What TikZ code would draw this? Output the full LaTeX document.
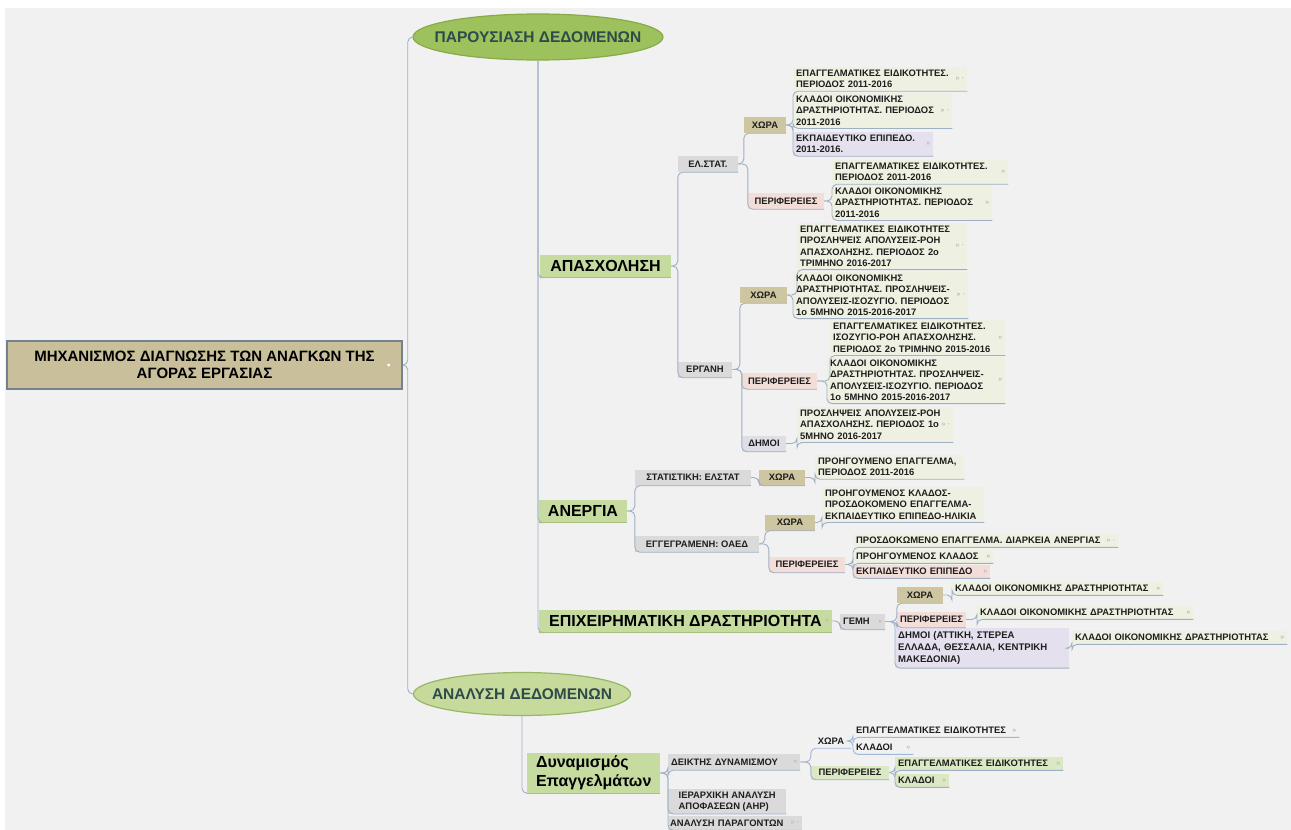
\documentclass[tikz,border=0pt]{standalone}
\usepackage{fontspec}
\setmainfont{Liberation Sans}
\newfontfamily\nf{Liberation Sans Bold}
\usetikzlibrary{shapes.geometric}
\definecolor{bgc}{HTML}{F1F1F1}
\definecolor{lnc}{HTML}{9FB0C4}
\definecolor{rootc}{HTML}{C9C09B}
\definecolor{rootb}{HTML}{74828F}
\definecolor{ellA}{HTML}{9DC15C}
\definecolor{ellAb}{HTML}{86AB48}
\definecolor{ellB}{HTML}{C6DA9C}
\definecolor{ellBb}{HTML}{98B766}
\definecolor{elltxt}{HTML}{2F4A4A}
\definecolor{lvl2}{HTML}{C6DBA0}
\definecolor{lvl2b}{HTML}{A9C07F}
\definecolor{grayc}{HTML}{DADADA}
\definecolor{tanc}{HTML}{CEC6A0}
\definecolor{pinkc}{HTML}{F3DDD8}
\definecolor{lavc}{HTML}{E5E0EE}
\definecolor{demc}{HTML}{DEDEE6}
\definecolor{leafc}{HTML}{EEF1E1}
\definecolor{greenc}{HTML}{DAE8C4}
\definecolor{bluel}{HTML}{9DB8DA}
\definecolor{txt}{HTML}{1E1E1E}
\definecolor{iconc}{HTML}{BBBBBB}
\tikzset{
  conn/.style={draw=lnc, line width=0.9pt, rounded corners=5pt},
  connb/.style={draw=bluel, line width=0.9pt, rounded corners=5pt},
  small/.style={font=\nf\fontsize{9.4}{11.2}\selectfont, text=txt},
  root/.style={rectangle, fill=rootc, draw=rootb, line width=1.5pt, minimum width=395, minimum height=48, align=center, font=\fontsize{15}{17}\selectfont\bfseries},
  ellipsenode/.style={ellipse, line width=1.2pt, inner sep=0pt, text=elltxt, font=\fontsize{15.5}{15.5}\selectfont\bfseries},
  lvltwo/.style={rectangle, fill=lvl2, inner sep=3pt, minimum height=23, font=\fontsize{16}{19}\selectfont\bfseries, text=black},
  gbox/.style={rectangle, small, fill=grayc, inner sep=2pt, minimum height=16},
  tbox/.style={rectangle, small, fill=tanc, inner sep=2pt, minimum height=16},
  pbox/.style={rectangle, small, fill=pinkc, inner sep=2pt, minimum height=16},
  leaf/.style={rectangle, small, anchor=north west, fill=leafc, align=left, inner xsep=3pt, inner ysep=3pt},
  one/.style={inner ysep=2.5pt, minimum height=13},
  iconnode/.style={anchor=east, inner sep=0pt, text=iconc, font=\fontsize{7}{7}\selectfont\bfseries},
}
\newcommand\cnx[2]{\draw[conn] (#1.east) -| (#2.south west) -- (#2.south east);}
\newcommand\cnxb[2]{\draw[connb] (#1.east) -| (#2.south west) -- (#2.south east);}
\newcommand\icA[1]{\node[iconnode] (#1i) at ([xshift=-3pt]#1.east) {»\,\,·};}
\newcommand\icB[1]{\node[iconnode] (#1i) at ([xshift=-3pt]#1.east) {»};}
\begin{document}
\begin{tikzpicture}[x=1pt,y=-1pt]
\useasboundingbox (0,0) rectangle (1291,830);
\fill[white] (0,0) rectangle (1291,830);
\fill[bgc] (5,8) rectangle (1291,830);

% main nodes
\node[root] (root) at (204.5,365) {ΜΗΧΑΝΙΣΜΟΣ ΔΙΑΓΝΩΣΗΣ ΤΩΝ ΑΝΑΓΚΩΝ ΤΗΣ\\ΑΓΟΡΑΣ ΕΡΓΑΣΙΑΣ};
\node[ellipsenode, fill=ellA, draw=ellAb, minimum width=250, minimum height=46] (pe) at (538,37) {\makebox[0pt]{ΠΑΡΟΥΣΙΑΣΗ ΔΕΔΟΜΕΝΩΝ}};
\node[ellipsenode, fill=ellB, draw=ellBb, minimum width=217, minimum height=43] (ae) at (522,694) {\makebox[0pt]{ΑΝΑΛΥΣΗ ΔΕΔΟΜΕΝΩΝ}};

\node[lvltwo, minimum width=131] (apa) at (605.5,266) {ΑΠΑΣΧΟΛΗΣΗ};
\node[lvltwo, minimum width=88] (ane) at (583,511) {ΑΝΕΡΓΙΑ};
\node[lvltwo, minimum width=293] (epi) at (685.5,621) {ΕΠΙΧΕΙΡΗΜΑΤΙΚΗ ΔΡΑΣΤΗΡΙΟΤΗΤΑ};
\node[lvltwo, minimum width=133, minimum height=40, align=left, anchor=west] (dyn) at (527,773) {Δυναμισμός\\Επαγγελμάτων};

% level 3
\node[gbox, minimum width=60] (els) at (708,164) {ΕΛ.ΣΤΑΤ.};
\node[gbox, minimum width=54] (erg) at (705,369.5) {ΕΡΓΑΝΗ};
\node[gbox, minimum width=116] (sta) at (693,477.5) {ΣΤΑΤΙΣΤΙΚΗ: ΕΛΣΤΑΤ};
\node[gbox, minimum width=124] (oae) at (697,544) {ΕΓΓΕΓΡΑΜΕΝΗ: ΟΑΕΔ};
\node[gbox, minimum width=45, anchor=west, align=left, text width=39pt] (gem) at (840,621.5) {ΓΕΜΗ};
\node[gbox, minimum width=132, anchor=west, align=left, text width=126pt] (dei) at (668,762) {ΔΕΙΚΤΗΣ~ΔΥΝΑΜΙΣΜΟΥ};
\node[gbox, minimum width=118, align=left, anchor=west, inner ysep=2.5pt] (ahp) at (668,801.5) {ΙΕΡΑΡΧΙΚΗ ΑΝΑΛΥΣΗ\\ΑΠΟΦΑΣΕΩΝ (AHP)};
\node[gbox, anchor=west, align=left, text width=130pt, minimum height=14] (par) at (668,823) {ΑΝΑΛΥΣΗ~ΠΑΡΑΓΟΝΤΩΝ};

% level 4
\node[tbox, minimum width=42] (x1) at (765,125) {ΧΩΡΑ};
\node[pbox, minimum width=76] (p1) at (786,201) {ΠΕΡΙΦΕΡΕΙΕΣ};
\node[tbox, minimum width=47] (x2) at (763.5,295) {ΧΩΡΑ};
\node[pbox, minimum width=75] (p2) at (779.5,381) {ΠΕΡΙΦΕΡΕΙΕΣ};
\node[gbox, fill=demc, minimum width=44] (d1) at (764,443.5) {ΔΗΜΟΙ};
\node[tbox, minimum width=46] (x3) at (782,477.5) {ΧΩΡΑ};
\node[tbox, minimum width=50] (x4) at (790,522.5) {ΧΩΡΑ};
\node[pbox, minimum width=76] (p3) at (807,564.5) {ΠΕΡΙΦΕΡΕΙΕΣ};
\node[tbox, minimum width=46] (x5) at (920,595) {ΧΩΡΑ};
\node[pbox, minimum width=69] (p4) at (931.5,619.5) {ΠΕΡΙΦΕΡΕΙΕΣ};
\node[leaf, fill=lavc, text width=168pt, inner ysep=3pt, font=\nf\fontsize{9.6}{12.4}\selectfont] (d2) at (895,628) {ΔΗΜΟΙ~(ΑΤΤΙΚΗ,~ΣΤΕΡΕΑ\\ΕΛΛΑΔΑ,~ΘΕΣΣΑΛΙΑ,~ΚΕΝΤΡΙΚΗ\\ΜΑΚΕΔΟΝΙΑ)};
\node[rectangle, small, inner sep=2pt, minimum height=14, minimum width=40] (x6) at (831,741) {ΧΩΡΑ};
\node[pbox, fill=greenc, minimum width=78, minimum height=14] (p5) at (850,772.5) {ΠΕΡΙΦΕΡΕΙΕΣ};

% leaves
\node[leaf, text width=168pt] (l1) at (793,67) {ΕΠΑΓΓΕΛΜΑΤΙΚΕΣ~ΕΙΔΙΚΟΤΗΤΕΣ.\\ΠΕΡΙΟΔΟΣ~2011-2016};
\node[leaf, text width=153pt] (l2) at (793,93) {ΚΛΑΔΟΙ~ΟΙΚΟΝΟΜΙΚΗΣ\\ΔΡΑΣΤΗΡΙΟΤΗΤΑΣ.~ΠΕΡΙΟΔΟΣ\\2011-2016};
\node[leaf, fill=lavc, text width=134pt] (l3) at (793,132) {ΕΚΠΑΙΔΕΥΤΙΚΟ~ΕΠΙΠΕΔΟ.\\2011-2016.};
\node[leaf, text width=170pt] (l4) at (832,160) {ΕΠΑΓΓΕΛΜΑΤΙΚΕΣ~ΕΙΔΙΚΟΤΗΤΕΣ.\\ΠΕΡΙΟΔΟΣ~2011-2016};
\node[leaf, text width=154pt] (l5) at (832,185) {ΚΛΑΔΟΙ~ΟΙΚΟΝΟΜΙΚΗΣ\\ΔΡΑΣΤΗΡΙΟΤΗΤΑΣ.~ΠΕΡΙΟΔΟΣ\\2011-2016};
\node[leaf, text width=164pt] (l6) at (797,223) {ΕΠΑΓΓΕΛΜΑΤΙΚΕΣ~ΕΙΔΙΚΟΤΗΤΕΣ\\ΠΡΟΣΛΗΨΕΙΣ~ΑΠΟΛΥΣΕΙΣ-ΡΟΗ\\ΑΠΑΣΧΟΛΗΣΗΣ.~ΠΕΡΙΟΔΟΣ~2ο\\ΤΡΙΜΗΝΟ~2016-2017};
\node[leaf, text width=169pt] (l7) at (793,272) {ΚΛΑΔΟΙ~ΟΙΚΟΝΟΜΙΚΗΣ\\ΔΡΑΣΤΗΡΙΟΤΗΤΑΣ.~ΠΡΟΣΛΗΨΕΙΣ-\\ΑΠΟΛΥΣΕΙΣ-ΙΣΟΖΥΓΙΟ.~ΠΕΡΙΟΔΟΣ\\1ο~5ΜΗΝΟ~2015-2016-2017};
\node[leaf, text width=169pt] (l8) at (830,320) {ΕΠΑΓΓΕΛΜΑΤΙΚΕΣ~ΕΙΔΙΚΟΤΗΤΕΣ.\\ΙΣΟΖΥΓΙΟ-ΡΟΗ~ΑΠΑΣΧΟΛΗΣΗΣ.\\ΠΕΡΙΟΔΟΣ~2ο~ΤΡΙΜΗΝΟ~2015-2016};
\node[leaf, text width=172pt] (l9) at (827,357) {ΚΛΑΔΟΙ~ΟΙΚΟΝΟΜΙΚΗΣ\\ΔΡΑΣΤΗΡΙΟΤΗΤΑΣ.~ΠΡΟΣΛΗΨΕΙΣ-\\ΑΠΟΛΥΣΕΙΣ-ΙΣΟΖΥΓΙΟ.~ΠΕΡΙΟΔΟΣ\\1ο~5ΜΗΝΟ~2015-2016-2017};
\node[leaf, text width=150pt] (l10) at (797,407) {ΠΡΟΣΛΗΨΕΙΣ~ΑΠΟΛΥΣΕΙΣ-ΡΟΗ\\ΑΠΑΣΧΟΛΗΣΗΣ.~ΠΕΡΙΟΔΟΣ~1ο\\5ΜΗΝΟ~2016-2017};
\node[leaf, text width=143pt] (l11) at (815,455) {ΠΡΟΗΓΟΥΜΕΝΟ~ΕΠΑΓΓΕΛΜΑ,\\ΠΕΡΙΟΔΟΣ~2011-2016};
\node[leaf, text width=156pt] (l12) at (822,487) {ΠΡΟΗΓΟΥΜΕΝΟΣ~ΚΛΑΔΟΣ-\\ΠΡΟΣΔΟΚΟΜΕΝΟ~ΕΠΑΓΓΕΛΜΑ-\\ΕΚΠΑΙΔΕΥΤΙΚΟ~ΕΠΙΠΕΔΟ-ΗΛΙΚΙΑ};
\node[leaf, one, text width=259pt] (l13) at (853,534) {ΠΡΟΣΔΟΚΩΜΕΝΟ~ΕΠΑΓΓΕΛΜΑ.~ΔΙΑΡΚΕΙΑ~ΑΝΕΡΓΙΑΣ};
\node[leaf, one, text width=134pt] (l14) at (853,550) {ΠΡΟΗΓΟΥΜΕΝΟΣ~ΚΛΑΔΟΣ};
\node[leaf, one, fill=pinkc, text width=131pt] (l15) at (853,565) {ΕΚΠΑΙΔΕΥΤΙΚΟ~ΕΠΙΠΕΔΟ};
\node[leaf, one, text width=205pt] (l16) at (952,582) {ΚΛΑΔΟΙ~ΟΙΚΟΝΟΜΙΚΗΣ~ΔΡΑΣΤΗΡΙΟΤΗΤΑΣ};
\node[leaf, one, text width=210pt] (l17) at (977,606) {ΚΛΑΔΟΙ~ΟΙΚΟΝΟΜΙΚΗΣ~ΔΡΑΣΤΗΡΙΟΤΗΤΑΣ};
\node[leaf, one, text width=209pt] (l18) at (1072,631) {ΚΛΑΔΟΙ~ΟΙΚΟΝΟΜΙΚΗΣ~ΔΡΑΣΤΗΡΙΟΤΗΤΑΣ};
\node[leaf, one, fill=none, text width=160pt] (l19) at (853,724) {ΕΠΑΓΓΕΛΜΑΤΙΚΕΣ~ΕΙΔΙΚΟΤΗΤΕΣ};
\node[leaf, one, fill=none, text width=54pt] (l20) at (853,741) {ΚΛΑΔΟΙ};
\node[leaf, one, fill=greenc, text width=162pt] (l21) at (895,757) {ΕΠΑΓΓΕΛΜΑΤΙΚΕΣ~ΕΙΔΙΚΟΤΗΤΕΣ};
\node[leaf, one, fill=greenc, text width=48pt] (l22) at (895,774) {ΚΛΑΔΟΙ};

% small link icons
\icA{l1} \icA{l2} \icB{l3} \icB{l4} \icB{l5} \icA{l6} \icA{l7} \icB{l8} \icB{l9} \icA{l10}
\icA{l13} \icB{l14} \icB{l15} \icB{l16} \icB{l17} \icB{l18} \icB{l19} \icB{l20} \icB{l21} \icB{l22}
\icB{gem} \icB{dei} \icA{par} \icB{epi}
\fill[white] ([xshift=-14pt]root.east) circle (1.6pt);

% connectors
\draw[conn] (root.east) -- ++(5,0) |- (pe.west);
\draw[conn] (root.east) -- ++(5,0) |- (ae.west);
\foreach \c in {apa,ane,epi} {\draw[conn] (pe.south) |- (\c.south west);
  \draw[lvl2b, line width=1.2pt] (\c.south west) -- (\c.south east);}
\draw[conn] (ae.south) |- (dyn.south west);
\draw[lvl2b, line width=1.2pt] (dyn.south west) -- (dyn.south east);
\cnx{apa}{els} \cnx{apa}{erg}
\cnx{els}{x1} \cnx{els}{p1}
\cnx{x1}{l1} \cnx{x1}{l2} \cnx{x1}{l3}
\cnx{p1}{l4} \cnx{p1}{l5}
\cnx{erg}{x2} \cnx{erg}{p2} \cnx{erg}{d1}
\cnx{x2}{l6} \cnx{x2}{l7}
\cnx{p2}{l8} \cnx{p2}{l9}
\cnx{d1}{l10}
\cnx{ane}{sta} \cnx{ane}{oae}
\cnx{sta}{x3} \cnx{x3}{l11}
\cnx{oae}{x4} \cnx{oae}{p3}
\cnx{x4}{l12}
\cnx{p3}{l13} \cnx{p3}{l14} \cnx{p3}{l15}
\cnx{epi}{gem}
\cnx{gem}{x5} \cnx{gem}{p4} \cnx{gem}{d2}
\cnx{x5}{l16} \cnx{p4}{l17} \cnx{d2}{l18}
\cnx{dyn}{dei} \cnx{dyn}{ahp} \cnx{dyn}{par}
\cnxb{dei}{x6} \cnx{dei}{p5}
\cnxb{x6}{l19} \cnxb{x6}{l20}
\cnx{p5}{l21} \cnx{p5}{l22}
\end{tikzpicture}
\end{document}
